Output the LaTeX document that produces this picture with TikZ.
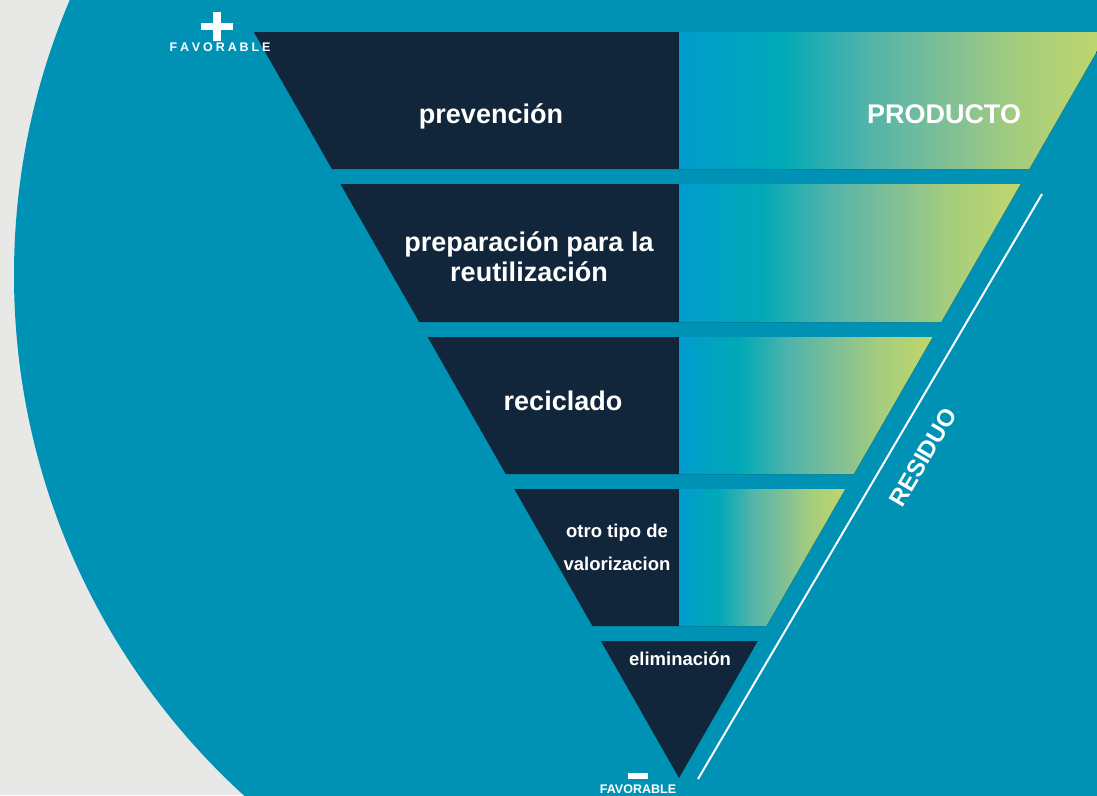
\documentclass[tikz,border=0pt]{standalone}
\usepackage{fontspec}
\setmainfont{Liberation Sans}
\definecolor{bggray}{RGB}{232,232,230}
\definecolor{tealbg}{RGB}{0,146,180}
\definecolor{navy}{RGB}{18,38,59}
\definecolor{ga}{RGB}{0,156,206}
\definecolor{gb}{RGB}{0,169,182}
\definecolor{gc}{RGB}{82,180,170}
\definecolor{gd}{RGB}{132,192,148}
\definecolor{ge}{RGB}{165,205,125}
\definecolor{gf}{RGB}{192,214,108}
\pgfdeclarehorizontalshading{prodgrad}{100bp}{color(0bp)=(ga); color(25bp)=(ga); color(37bp)=(gb); color(47bp)=(gc); color(57bp)=(gd); color(64.5bp)=(ge); color(75bp)=(gf); color(100bp)=(gf)}
\newcommand\lsp{\hspace{2.9pt}}
\begin{document}
\begin{tikzpicture}[x=1pt,y=-1pt,
  darkband/.style={fill=navy},
  gradband/.style={shading=prodgrad},
  bigtxt/.style={text=white, font=\bfseries\fontsize{27}{30}\selectfont, anchor=base, inner sep=0pt},
  smalltxt/.style={text=white, font=\bfseries\fontsize{18.5}{22}\selectfont, anchor=base, inner sep=0pt},
  tinytxt/.style={text=white, font=\bfseries\fontsize{12.5}{14}\selectfont, anchor=base, inner sep=0pt}]
\useasboundingbox (0,0) rectangle (1097,795);
\fill[bggray] (0,0) rectangle (1097,795);
\begin{scope}
  \clip (0,0) rectangle (1097,795);
  \fill[tealbg] (718,275) circle[radius=704pt];
  % band 1
  \fill[darkband] (253.8,32) -- (679,32) -- (679,169) -- (331.9,169) -- cycle;
  \fill[gradband] (679,32) -- (1108,32) -- (1029.2,169) -- (679,169) -- cycle;
  % band 2
  \fill[darkband] (340.4,184) -- (679,184) -- (679,322) -- (419.1,322) -- cycle;
  \fill[gradband] (679,184) -- (1020.6,184) -- (941.2,322) -- (679,322) -- cycle;
  % band 3
  \fill[darkband] (427.6,337) -- (679,337) -- (679,474) -- (505.7,474) -- cycle;
  \fill[gradband] (679,337) -- (932.6,337) -- (853.8,474) -- (679,474) -- cycle;
  % band 4
  \fill[darkband] (514.3,489) -- (679,489) -- (679,626) -- (592.4,626) -- cycle;
  \fill[gradband] (679,489) -- (845.2,489) -- (766.4,626) -- (679,626) -- cycle;
  % band 5
  \fill[darkband] (600.9,641) -- (757.8,641) -- (679,778) -- cycle;
  % white line
  \coordinate (lt) at (1042,194);
  \coordinate (lb) at (698,779);
  \draw[white, line width=2pt] (lt) -- (lb);
  % plus and minus
  \fill[white] (201,23) rectangle (233,30);
  \fill[white] (213,12) rectangle (221,41);
  \fill[white] (628,773) rectangle (648,779);
\end{scope}
\node[bigtxt] (prev) at (491,123) {prevención};
\node[bigtxt] (prod) at (944,123) {PRODUCTO};
\node[bigtxt] (prep1) at (529,251) {preparación para la};
\node[bigtxt] (prep2) at (529,281) {reutilización};
\node[bigtxt] (reci) at (563,410) {reciclado};
\node[smalltxt] (otro1) at (617,537) {otro tipo de};
\node[smalltxt] (otro2) at (617,570) {valorizacion};
\node[smalltxt] (elim) at (680,665) {eliminación};
\node[text=white, font=\bfseries\fontsize{24}{28}\selectfont, rotate=59.5, inner sep=0pt] (resid) at (923,457) {RESIDUO};
\node[tinytxt] (favtop) at (220,51) {F\lsp A\lsp V\lsp O\lsp R\lsp A\lsp B\lsp L\lsp E};
\node[tinytxt] (favbot) at (638,793) {FAVORABLE};
\end{tikzpicture}
\end{document}
